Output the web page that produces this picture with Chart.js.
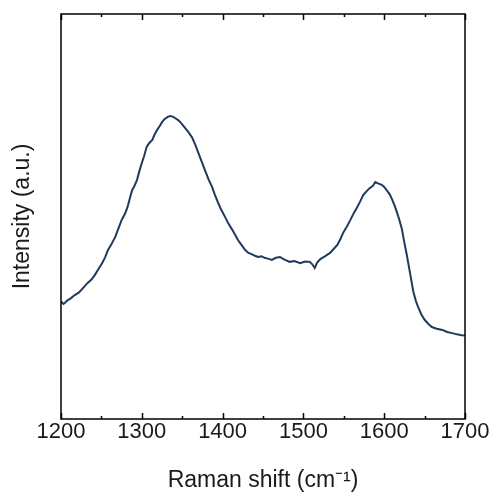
<!DOCTYPE html>
<html>
<head>
<meta charset="utf-8">
<script src="https://cdn.jsdelivr.net/npm/chart.js@4/dist/chart.umd.min.js"></script>
<style>
	html, body { margin: 0; padding: 0; background: #fff; }
	#wrap { width: 493px; height: 494px; }
</style>
</head>
<body>
<div id="wrap"><canvas id="chart-raman"></canvas></div>
<script>
const ramanShift = [
	1200, 1203, 1205, 1208, 1212, 1217, 1222, 1228, 1233, 1238,
	1242, 1246, 1251, 1255, 1258, 1262, 1267, 1271, 1275, 1279,
	1282, 1285, 1288, 1291, 1294, 1297, 1300, 1303, 1306, 1309,
	1313, 1316, 1319, 1322, 1325, 1328, 1332, 1335, 1339, 1342,
	1345, 1349, 1353, 1357, 1362, 1366, 1370, 1374, 1378, 1383,
	1387, 1390, 1394, 1398, 1403, 1407, 1412, 1416, 1419, 1424,
	1428, 1432, 1436, 1440, 1444, 1448, 1452, 1456, 1461, 1466,
	1471, 1476, 1483, 1489, 1496, 1502, 1508, 1511, 1514, 1517,
	1521, 1527, 1533, 1538, 1542, 1546, 1549, 1554, 1558, 1562,
	1566, 1570, 1574, 1578, 1582, 1586, 1589, 1593, 1597, 1600,
	1603, 1607, 1610, 1613, 1616, 1619, 1622, 1625, 1628, 1632,
	1636, 1639, 1642, 1646, 1650, 1655, 1659, 1665, 1672, 1678,
	1684, 1690, 1696, 1700
];
const intensity = [
	29.0, 28.4, 28.7, 29.3, 29.8, 30.6, 31.2, 32.5, 33.6, 34.5,
	35.6, 36.9, 38.5, 40.1, 41.7, 43.0, 44.9, 47.0, 49.1, 50.6,
	52.1, 54.3, 56.5, 57.6, 59.0, 61.2, 63.2, 65.0, 67.2, 68.1,
	68.9, 70.3, 71.4, 72.3, 73.3, 74.0, 74.6, 74.8, 74.6, 74.2,
	73.8, 73.0, 72.0, 71.0, 69.6, 67.8, 65.7, 63.6, 61.5, 59.0,
	57.3, 55.6, 53.6, 51.8, 49.9, 48.3, 46.7, 45.3, 44.2, 42.8,
	41.7, 41.0, 40.7, 40.3, 40.0, 40.2, 39.8, 39.6, 39.3, 39.8,
	40.0, 39.4, 38.8, 39.0, 38.5, 38.9, 38.8, 38.2, 37.3, 38.6,
	39.5, 40.2, 41.0, 42.1, 43.0, 44.5, 45.9, 47.6, 49.1, 50.7,
	52.1, 53.6, 55.3, 56.2, 57.0, 57.6, 58.5, 58.1, 57.8, 57.3,
	56.5, 55.4, 54.1, 52.6, 50.9, 49.0, 46.8, 43.5, 40.5, 36.0,
	31.5, 29.3, 27.6, 25.8, 24.5, 23.4, 22.7, 22.3, 22.0, 21.5,
	21.2, 20.9, 20.7, 20.6
];
const xMajorTicks = [1200, 1300, 1400, 1500, 1600, 1700];
const xMinorTicks = [1250, 1350, 1450, 1550, 1650];

const font = '"Liberation Sans", Arial, sans-serif';

// frame + inward ticks on top and bottom
const framePlugin = {
	id: 'frame',
	afterDraw: chart => {
		const ctx = chart.ctx;
		const area = chart.chartArea;
		const x = chart.scales.x;
		ctx.save();
		ctx.strokeStyle = '#000';
		ctx.lineWidth = 1.5;
		const tick = (value, length) => {
			const px = Math.round(x.getPixelForValue(value)) + 0.5;
			ctx.beginPath();
			ctx.moveTo(px, area.bottom);
			ctx.lineTo(px, area.bottom - length);
			ctx.moveTo(px, area.top);
			ctx.lineTo(px, area.top + length);
			ctx.stroke();
		};
		xMajorTicks.forEach(v => tick(v, 6));
		xMinorTicks.forEach(v => tick(v, 3));
		ctx.strokeRect(area.left, area.top, area.right - area.left, area.bottom - area.top);
		ctx.restore();
	}
};

new Chart('chart-raman', {
	type: 'line',
	data: {
		datasets: [{
			data: ramanShift.map((v, i) => ({ x: v, y: intensity[i] })),
			borderColor: '#1f3a5b',
			borderWidth: 2,
			pointRadius: 0,
			tension: 0,
			fill: false
		}]
	},
	options: {
		responsive: true,
		maintainAspectRatio: false,
		animation: false,
		layout: {
			padding: { top: 14, right: 28, left: 0, bottom: 0 }
		},
		plugins: {
			legend: { display: false },
			tooltip: { enabled: false }
		},
		scales: {
			x: {
				type: 'linear',
				min: 1200,
				max: 1700,
				afterFit: scale => { scale.height = 75; },
				afterBuildTicks: scale => { scale.ticks = xMajorTicks.map(v => ({ value: v })); },
				grid: { display: false, drawTicks: false },
				border: { display: false },
				ticks: {
					padding: 0,
					color: '#1a1a1a',
					font: { family: font, size: 22 },
					maxRotation: 0,
					callback: value => String(value)
				},
				title: {
					display: true,
					text: 'Raman shift (cm\u207B\u00B9)',
					color: '#1a1a1a',
					font: { family: font, size: 23 },
					padding: { top: 4, bottom: 0 }
				}
			},
			y: {
				min: 0,
				max: 100,
				afterFit: scale => { scale.width = 61; },
				grid: { display: false, drawTicks: false },
				border: { display: false },
				ticks: { display: false },
				title: {
					display: true,
					text: 'Intensity (a.u.)',
					color: '#1a1a1a',
					font: { family: font, size: 23 },
					padding: { top: 9, bottom: 0 }
				}
			}
		}
	},
	plugins: [framePlugin]
});
</script>
</body>
</html>
